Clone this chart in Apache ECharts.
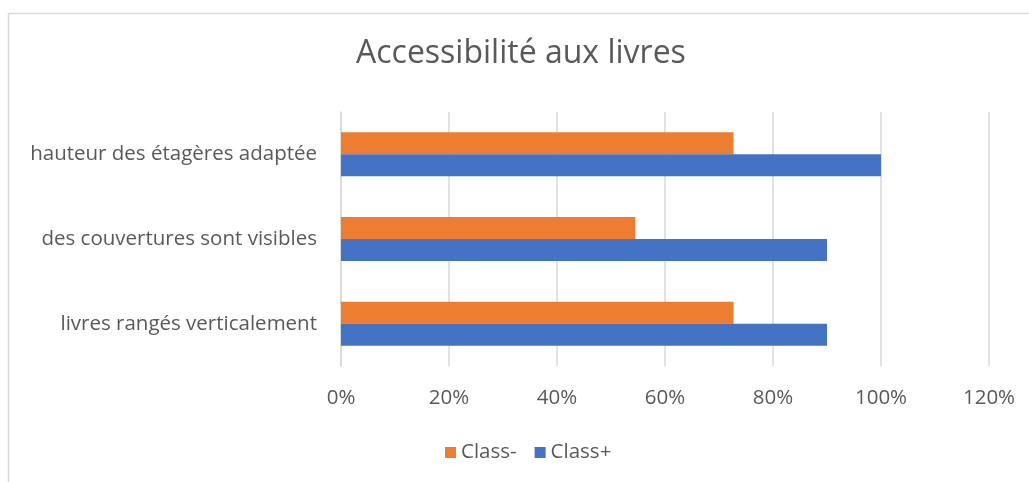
<!DOCTYPE html>
<html>
<head>
<meta charset="utf-8">
<script src="https://cdn.jsdelivr.net/npm/echarts@6/dist/echarts.min.js"></script>
<style>
  html, body { margin: 0; padding: 0; background: #fff; }
  #chart { width: 1029px; height: 482px; }
</style>
</head>
<body>
<div id="chart"></div>
<script>
// Categories, bottom to top on the vertical axis
const categories = [
  'livres rangés verticalement',
  'des couvertures sont visibles',
  'hauteur des étagères adaptée'
];
// Share of classrooms (0–1) for each group
const classMinus = [0.727, 0.545, 0.727];
const classPlus = [0.90, 0.90, 1.00];
const seriesNames = ['Class-', 'Class+'];

const FONT = '"Open Sans", "Noto Sans", sans-serif';
const TEXT = '#595959';

const chart = echarts.init(document.getElementById('chart'));
chart.setOption({
  animation: false,
  backgroundColor: '#ffffff',
  graphic: [{
    type: 'rect',
    silent: true,
    shape: { x: 8.5, y: 13.5, width: 1200, height: 800 },
    style: { fill: 'none', stroke: '#d9d9d9', lineWidth: 1.5 }
  }],
  title: {
    text: 'Accessibilité aux livres',
    left: 356,
    top: 38,
    padding: 0,
    textStyle: { fontFamily: FONT, fontSize: 32, fontWeight: 'normal', color: TEXT }
  },
  legend: {
    data: seriesNames,
    bottom: 14,
    left: 440,
    itemWidth: 11,
    itemHeight: 11,
    itemGap: 18,
    icon: 'rect',
    textStyle: { fontFamily: FONT, fontSize: 20.5, color: TEXT }
  },
  grid: { left: 341, right: 40, top: 112, bottom: 116, containLabel: false },
  xAxis: {
    type: 'value',
    min: 0,
    max: 1.2,
    interval: 0.2,
    axisLine: { show: false },
    axisTick: { show: false },
    splitLine: { lineStyle: { color: '#d9d9d9', width: 1.5 } },
    axisLabel: {
      margin: 22,
      fontFamily: FONT, fontSize: 20.5, color: TEXT,
      formatter: v => Math.round(v * 100) + '%'
    }
  },
  yAxis: {
    type: 'category',
    data: categories,
    axisLine: { show: true, lineStyle: { color: '#d9d9d9', width: 1.5 } },
    axisTick: { show: false },
    axisLabel: { margin: 24, fontFamily: FONT, fontSize: 20.5, color: TEXT }
  },
  series: [
    {
      name: 'Class-',
      type: 'bar',
      data: classMinus,
      barWidth: 22,
      barGap: '0%',
      itemStyle: { color: '#ED7D31' }
    },
    {
      name: 'Class+',
      type: 'bar',
      data: classPlus,
      barWidth: 22,
      barGap: '0%',
      itemStyle: { color: '#4472C4' }
    }
  ]
});
</script>
</body>
</html>
